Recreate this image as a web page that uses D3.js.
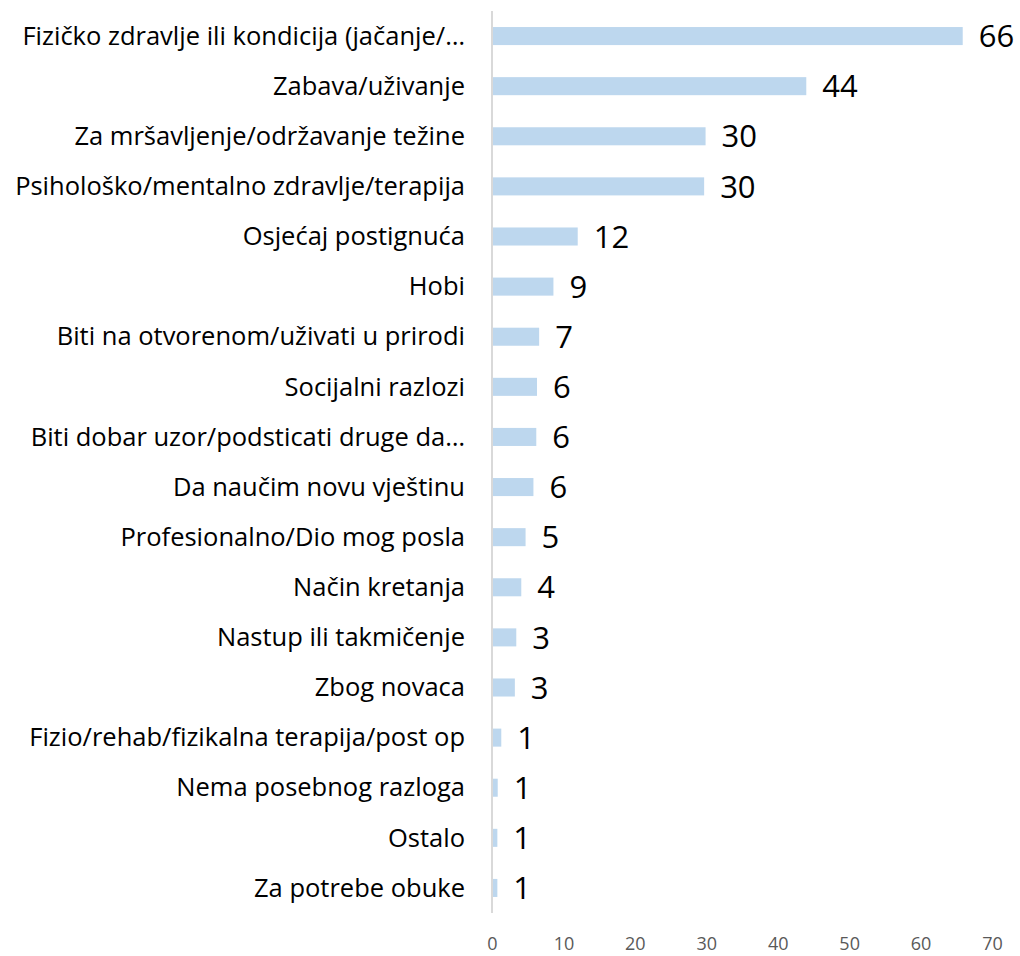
<!DOCTYPE html>
<html>
<head>
<meta charset="utf-8">
<script src="https://cdn.jsdelivr.net/npm/d3@7"></script>
<style>
  body { margin: 0; background: #fff; }
  svg { font-family: "Open Sans", sans-serif; }
</style>
</head>
<body>
<svg id="chart"></svg>
<script>
// categories top to bottom, with values
var categories = [
  'Fizičko zdravlje ili kondicija (jačanje/…',
  'Zabava/uživanje',
  'Za mršavljenje/održavanje težine',
  'Psihološko/mentalno zdravlje/terapija',
  'Osjećaj postignuća',
  'Hobi',
  'Biti na otvorenom/uživati u prirodi',
  'Socijalni razlozi',
  'Biti dobar uzor/podsticati druge da…',
  'Da naučim novu vještinu',
  'Profesionalno/Dio mog posla',
  'Način kretanja',
  'Nastup ili takmičenje',
  'Zbog novaca',
  'Fizio/rehab/fizikalna terapija/post op',
  'Nema posebnog razloga',
  'Ostalo',
  'Za potrebe obuke'
];
var values = [65.9, 44.0, 29.9, 29.7, 12.0, 8.6, 6.6, 6.3, 6.2, 5.8, 4.7, 4.1, 3.4, 3.2, 1.3, 0.8, 0.75, 0.75];
var xTicks = [0, 10, 20, 30, 40, 50, 60, 70];

var W = 1020, H = 956;
var mLeft = 492, mRight = 992, mTop = 11, mBottom = 913;

var svg = d3.select('#chart').attr('width', W).attr('height', H);

var xs = d3.scaleLinear().domain([0, 70]).range([mLeft, mRight]);
var ys = d3.scaleBand().domain(categories).range([mTop, mBottom]).paddingInner(0.64).paddingOuter(0.32);

svg.append('g')
  .selectAll('rect')
  .data(values)
  .enter()
  .append('rect')
    .attr('x', xs(0))
    .attr('y', function(d, i) { return ys(categories[i]); })
    .attr('width', function(d) { return xs(d) - xs(0); })
    .attr('height', ys.bandwidth())
    .attr('fill', '#bdd7ee');

// vertical axis line + category labels
var yAxis = svg.append('g')
  .attr('transform', 'translate(' + xs(0) + ',0)')
  .call(d3.axisLeft(ys).tickSize(0).tickPadding(27));
yAxis.select('.domain').attr('stroke', '#d9d9d9').attr('stroke-width', 2)
  .attr('d', 'M0,' + mTop + 'V' + mBottom);
yAxis.selectAll('text')
  .attr('font-size', 25.5)
  .attr('dy', '0.34em')
  .attr('fill', '#000')
  .attr('font-family', '"Open Sans", sans-serif');

// value labels
svg.append('g')
  .selectAll('text')
  .data(values)
  .enter()
  .append('text')
    .attr('x', function(d) { return xs(d) + 16; })
    .attr('y', function(d, i) { return ys(categories[i]) + ys.bandwidth() / 2; })
    .attr('dy', '0.36em')
    .attr('font-size', 31)
    .attr('fill', '#000')
    .text(function(d) { return d3.format('.0f')(d); });

// bottom tick labels (no axis line)
var xAxis = svg.append('g')
  .attr('transform', 'translate(0,' + 937 + ')')
  .call(d3.axisBottom(xs).tickValues(xTicks).tickSize(0).tickPadding(0));
xAxis.select('.domain').remove();
xAxis.selectAll('text')
  .attr('font-size', 18)
  .attr('fill', '#595959')
  .attr('font-family', '"Open Sans", sans-serif');
</script>
</body>
</html>
